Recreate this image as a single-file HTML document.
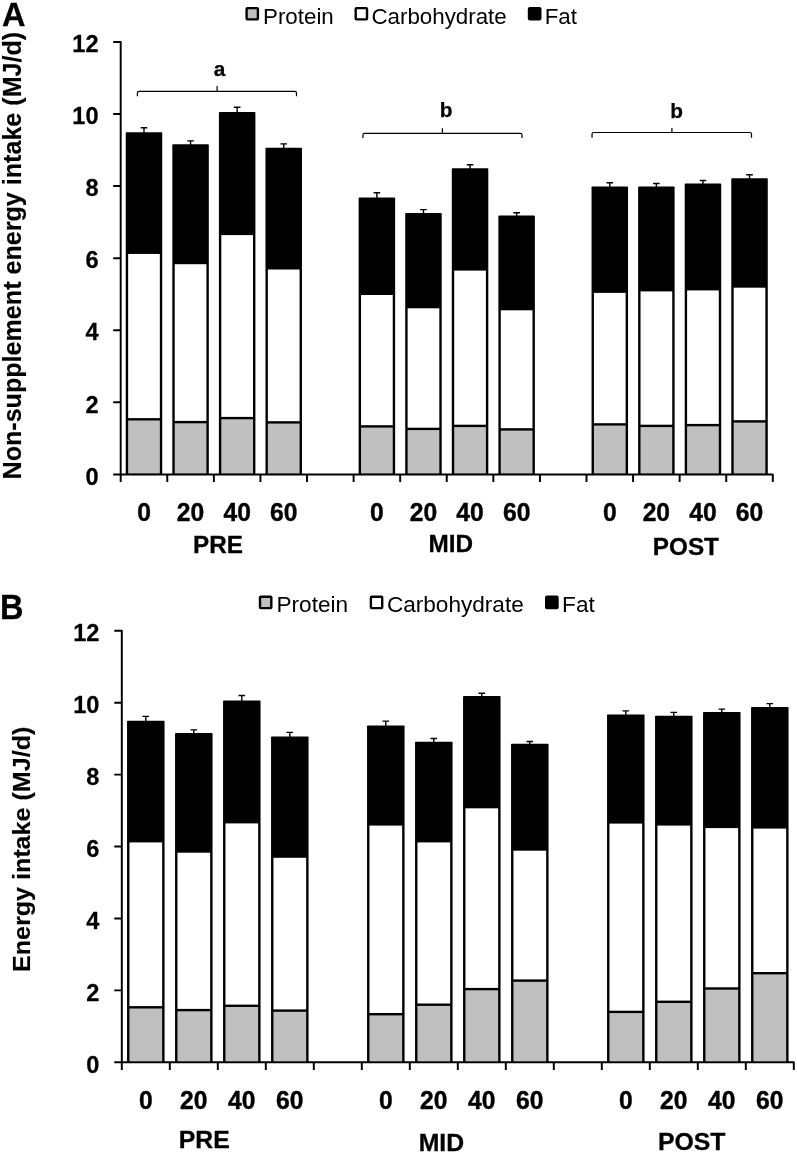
<!DOCTYPE html>
<html><head><meta charset="utf-8"><title>Energy intake</title>
<style>
html,body{margin:0;padding:0;background:#fff;}
body{width:797px;height:1153px;overflow:hidden;font-family:"Liberation Sans",sans-serif;}
svg{display:block;will-change:transform;}
</style></head><body>
<svg width="797" height="1153" viewBox="0 0 797 1153" font-family="'Liberation Sans', sans-serif" fill="#000">
<path d="M113.20 41.92H120.70V482.00" fill="none" stroke="#000" stroke-width="1.95" stroke-linejoin="round"/>
<path d="M113.20 474.40H772.82V482.00" fill="none" stroke="#000" stroke-width="1.95" stroke-linejoin="round"/>
<path d="M113.20 402.32H120.70M113.20 330.24H120.70M113.20 258.16H120.70M113.20 186.08H120.70M113.20 114.00H120.70M167.28 474.40V482.00M213.86 474.40V482.00M260.44 474.40V482.00M307.02 474.40V482.00M353.60 474.40V482.00M400.18 474.40V482.00M446.76 474.40V482.00M493.34 474.40V482.00M539.92 474.40V482.00M586.50 474.40V482.00M633.08 474.40V482.00M679.66 474.40V482.00M726.24 474.40V482.00" fill="none" stroke="#000" stroke-width="1.95"/>
<path d="M143.99 133.20V127.80M140.69 127.80H147.29" fill="none" stroke="#000" stroke-width="1.4"/>
<rect x="125.74" y="132.20" width="36.50" height="342.20" fill="#000" rx="0.8"/>
<rect x="128.14" y="253.95" width="31.70" height="164.15" fill="#fff"/>
<rect x="128.14" y="420.50" width="31.70" height="52.90" fill="#c0c0c0"/>
<path d="M190.57 145.20V140.90M187.27 140.90H193.87" fill="none" stroke="#000" stroke-width="1.4"/>
<rect x="172.32" y="144.20" width="36.50" height="330.20" fill="#000" rx="0.8"/>
<rect x="174.72" y="264.20" width="31.70" height="156.70" fill="#fff"/>
<rect x="174.72" y="423.30" width="31.70" height="50.10" fill="#c0c0c0"/>
<path d="M237.15 113.10V107.30M233.85 107.30H240.45" fill="none" stroke="#000" stroke-width="1.4"/>
<rect x="218.90" y="112.10" width="36.50" height="362.30" fill="#000" rx="0.8"/>
<rect x="221.30" y="235.10" width="31.70" height="181.80" fill="#fff"/>
<rect x="221.30" y="419.30" width="31.70" height="54.10" fill="#c0c0c0"/>
<path d="M283.73 148.70V143.90M280.43 143.90H287.03" fill="none" stroke="#000" stroke-width="1.4"/>
<rect x="265.48" y="147.70" width="36.50" height="326.70" fill="#000" rx="0.8"/>
<rect x="267.88" y="269.50" width="31.70" height="151.70" fill="#fff"/>
<rect x="267.88" y="423.60" width="31.70" height="49.80" fill="#c0c0c0"/>
<path d="M376.89 198.60V192.80M373.59 192.80H380.19" fill="none" stroke="#000" stroke-width="1.4"/>
<rect x="358.64" y="197.60" width="36.50" height="276.80" fill="#000" rx="0.8"/>
<rect x="361.04" y="295.00" width="31.70" height="130.20" fill="#fff"/>
<rect x="361.04" y="427.60" width="31.70" height="45.80" fill="#c0c0c0"/>
<path d="M423.47 213.90V209.60M420.17 209.60H426.77" fill="none" stroke="#000" stroke-width="1.4"/>
<rect x="405.22" y="212.90" width="36.50" height="261.50" fill="#000" rx="0.8"/>
<rect x="407.62" y="308.30" width="31.70" height="119.40" fill="#fff"/>
<rect x="407.62" y="430.10" width="31.70" height="43.30" fill="#c0c0c0"/>
<path d="M470.05 169.20V164.70M466.75 164.70H473.35" fill="none" stroke="#000" stroke-width="1.4"/>
<rect x="451.80" y="168.20" width="36.50" height="306.20" fill="#000" rx="0.8"/>
<rect x="454.20" y="270.60" width="31.70" height="154.10" fill="#fff"/>
<rect x="454.20" y="427.10" width="31.70" height="46.30" fill="#c0c0c0"/>
<path d="M516.63 216.40V212.80M513.33 212.80H519.93" fill="none" stroke="#000" stroke-width="1.4"/>
<rect x="498.38" y="215.40" width="36.50" height="259.00" fill="#000" rx="0.8"/>
<rect x="500.78" y="310.30" width="31.70" height="117.90" fill="#fff"/>
<rect x="500.78" y="430.60" width="31.70" height="42.80" fill="#c0c0c0"/>
<path d="M609.79 187.40V182.80M606.49 182.80H613.09" fill="none" stroke="#000" stroke-width="1.4"/>
<rect x="591.54" y="186.40" width="36.50" height="288.00" fill="#000" rx="0.8"/>
<rect x="593.94" y="292.90" width="31.70" height="130.30" fill="#fff"/>
<rect x="593.94" y="425.60" width="31.70" height="47.80" fill="#c0c0c0"/>
<path d="M656.37 187.60V183.50M653.07 183.50H659.67" fill="none" stroke="#000" stroke-width="1.4"/>
<rect x="638.12" y="186.60" width="36.50" height="287.80" fill="#000" rx="0.8"/>
<rect x="640.52" y="291.40" width="31.70" height="133.30" fill="#fff"/>
<rect x="640.52" y="427.10" width="31.70" height="46.30" fill="#c0c0c0"/>
<path d="M702.95 184.60V180.50M699.65 180.50H706.25" fill="none" stroke="#000" stroke-width="1.4"/>
<rect x="684.70" y="183.60" width="36.50" height="290.80" fill="#000" rx="0.8"/>
<rect x="687.10" y="290.40" width="31.70" height="133.50" fill="#fff"/>
<rect x="687.10" y="426.30" width="31.70" height="47.10" fill="#c0c0c0"/>
<path d="M749.53 179.30V174.80M746.23 174.80H752.83" fill="none" stroke="#000" stroke-width="1.4"/>
<rect x="731.28" y="178.30" width="36.50" height="296.10" fill="#000" rx="0.8"/>
<rect x="733.68" y="287.70" width="31.70" height="132.50" fill="#fff"/>
<rect x="733.68" y="422.60" width="31.70" height="50.80" fill="#c0c0c0"/>
<path d="M114.30 630.78H121.80V1069.90" fill="none" stroke="#000" stroke-width="1.95" stroke-linejoin="round"/>
<path d="M114.30 1062.30H793.80V1069.90" fill="none" stroke="#000" stroke-width="1.95" stroke-linejoin="round"/>
<path d="M114.30 990.38H121.80M114.30 918.46H121.80M114.30 846.54H121.80M114.30 774.62H121.80M114.30 702.70H121.80M169.80 1062.30V1069.90M217.80 1062.30V1069.90M265.80 1062.30V1069.90M313.80 1062.30V1069.90M361.80 1062.30V1069.90M409.80 1062.30V1069.90M457.80 1062.30V1069.90M505.80 1062.30V1069.90M553.80 1062.30V1069.90M601.80 1062.30V1069.90M649.80 1062.30V1069.90M697.80 1062.30V1069.90M745.80 1062.30V1069.90" fill="none" stroke="#000" stroke-width="1.95"/>
<path d="M145.80 721.70V716.40M142.50 716.40H149.10" fill="none" stroke="#000" stroke-width="1.4"/>
<rect x="127.05" y="720.70" width="37.50" height="341.60" fill="#000" rx="0.8"/>
<rect x="129.45" y="842.40" width="32.70" height="163.70" fill="#fff"/>
<rect x="129.45" y="1008.50" width="32.70" height="52.80" fill="#c0c0c0"/>
<path d="M193.80 734.00V729.90M190.50 729.90H197.10" fill="none" stroke="#000" stroke-width="1.4"/>
<rect x="175.05" y="733.00" width="37.50" height="329.30" fill="#000" rx="0.8"/>
<rect x="177.45" y="852.70" width="32.70" height="156.20" fill="#fff"/>
<rect x="177.45" y="1011.30" width="32.70" height="50.00" fill="#c0c0c0"/>
<path d="M241.80 701.60V695.50M238.50 695.50H245.10" fill="none" stroke="#000" stroke-width="1.4"/>
<rect x="223.05" y="700.60" width="37.50" height="361.70" fill="#000" rx="0.8"/>
<rect x="225.45" y="823.40" width="32.70" height="181.20" fill="#fff"/>
<rect x="225.45" y="1007.00" width="32.70" height="54.30" fill="#c0c0c0"/>
<path d="M289.80 737.50V732.40M286.50 732.40H293.10" fill="none" stroke="#000" stroke-width="1.4"/>
<rect x="271.05" y="736.50" width="37.50" height="325.80" fill="#000" rx="0.8"/>
<rect x="273.45" y="857.80" width="32.70" height="151.60" fill="#fff"/>
<rect x="273.45" y="1011.80" width="32.70" height="49.50" fill="#c0c0c0"/>
<path d="M385.80 726.50V721.10M382.50 721.10H389.10" fill="none" stroke="#000" stroke-width="1.4"/>
<rect x="367.05" y="725.50" width="37.50" height="336.80" fill="#000" rx="0.8"/>
<rect x="369.45" y="825.60" width="32.70" height="187.40" fill="#fff"/>
<rect x="369.45" y="1015.40" width="32.70" height="45.90" fill="#c0c0c0"/>
<path d="M433.80 742.80V738.50M430.50 738.50H437.10" fill="none" stroke="#000" stroke-width="1.4"/>
<rect x="415.05" y="741.80" width="37.50" height="320.50" fill="#000" rx="0.8"/>
<rect x="417.45" y="842.40" width="32.70" height="161.10" fill="#fff"/>
<rect x="417.45" y="1005.90" width="32.70" height="55.40" fill="#c0c0c0"/>
<path d="M481.80 697.10V693.30M478.50 693.30H485.10" fill="none" stroke="#000" stroke-width="1.4"/>
<rect x="463.05" y="696.10" width="37.50" height="366.20" fill="#000" rx="0.8"/>
<rect x="465.45" y="808.30" width="32.70" height="179.60" fill="#fff"/>
<rect x="465.45" y="990.30" width="32.70" height="71.00" fill="#c0c0c0"/>
<path d="M529.80 744.80V741.50M526.50 741.50H533.10" fill="none" stroke="#000" stroke-width="1.4"/>
<rect x="511.05" y="743.80" width="37.50" height="318.50" fill="#000" rx="0.8"/>
<rect x="513.45" y="850.70" width="32.70" height="128.70" fill="#fff"/>
<rect x="513.45" y="981.80" width="32.70" height="79.50" fill="#c0c0c0"/>
<path d="M625.80 715.40V710.90M622.50 710.90H629.10" fill="none" stroke="#000" stroke-width="1.4"/>
<rect x="607.05" y="714.40" width="37.50" height="347.90" fill="#000" rx="0.8"/>
<rect x="609.45" y="823.60" width="32.70" height="187.10" fill="#fff"/>
<rect x="609.45" y="1013.10" width="32.70" height="48.20" fill="#c0c0c0"/>
<path d="M673.80 716.70V712.40M670.50 712.40H677.10" fill="none" stroke="#000" stroke-width="1.4"/>
<rect x="655.05" y="715.70" width="37.50" height="346.60" fill="#000" rx="0.8"/>
<rect x="657.45" y="825.60" width="32.70" height="175.00" fill="#fff"/>
<rect x="657.45" y="1003.00" width="32.70" height="58.30" fill="#c0c0c0"/>
<path d="M721.80 712.90V709.10M718.50 709.10H725.10" fill="none" stroke="#000" stroke-width="1.4"/>
<rect x="703.05" y="711.90" width="37.50" height="350.40" fill="#000" rx="0.8"/>
<rect x="705.45" y="828.10" width="32.70" height="159.20" fill="#fff"/>
<rect x="705.45" y="989.70" width="32.70" height="71.60" fill="#c0c0c0"/>
<path d="M769.80 708.10V703.60M766.50 703.60H773.10" fill="none" stroke="#000" stroke-width="1.4"/>
<rect x="751.05" y="707.10" width="37.50" height="355.20" fill="#000" rx="0.8"/>
<rect x="753.45" y="828.60" width="32.70" height="143.40" fill="#fff"/>
<rect x="753.45" y="974.40" width="32.70" height="86.90" fill="#c0c0c0"/>
<path d="M137.40 96.20V92.90Q137.40 91.30 139.00 91.30H294.90Q296.50 91.30 296.50 92.90V96.20M217.10 91.30V85.90" fill="none" stroke="#000" stroke-width="1.2"/>
<path d="M362.95 138.00V134.90Q362.95 133.30 364.55 133.30H520.40Q522.00 133.30 522.00 134.90V138.00M442.40 133.30V128.20" fill="none" stroke="#000" stroke-width="1.2"/>
<path d="M592.05 137.70V134.10Q592.05 132.50 593.65 132.50H749.90Q751.50 132.50 751.50 134.10V137.70M671.90 132.50V127.90" fill="none" stroke="#000" stroke-width="1.2"/>
<text x="219.50" y="75.90" font-size="20.8" font-weight="bold" text-anchor="middle"  stroke="#000" stroke-width="0.25" stroke-linejoin="round">a</text>
<text x="446.00" y="117.40" font-size="20.8" font-weight="bold" text-anchor="middle"  stroke="#000" stroke-width="0.25" stroke-linejoin="round">b</text>
<text x="676.60" y="117.60" font-size="20.8" font-weight="bold" text-anchor="middle"  stroke="#000" stroke-width="0.25" stroke-linejoin="round">b</text>
<text transform="translate(98.60 484.60) scale(1.0 1.05)" font-size="23.6" font-weight="bold" text-anchor="end"  stroke="#000" stroke-width="0.25" stroke-linejoin="round">0</text>
<text transform="translate(98.60 412.52) scale(1.0 1.05)" font-size="23.6" font-weight="bold" text-anchor="end"  stroke="#000" stroke-width="0.25" stroke-linejoin="round">2</text>
<text transform="translate(98.60 340.44) scale(1.0 1.05)" font-size="23.6" font-weight="bold" text-anchor="end"  stroke="#000" stroke-width="0.25" stroke-linejoin="round">4</text>
<text transform="translate(98.60 268.36) scale(1.0 1.05)" font-size="23.6" font-weight="bold" text-anchor="end"  stroke="#000" stroke-width="0.25" stroke-linejoin="round">6</text>
<text transform="translate(98.60 196.28) scale(1.0 1.05)" font-size="23.6" font-weight="bold" text-anchor="end"  stroke="#000" stroke-width="0.25" stroke-linejoin="round">8</text>
<text transform="translate(98.60 124.20) scale(1.0 1.05)" font-size="23.6" font-weight="bold" text-anchor="end"  stroke="#000" stroke-width="0.25" stroke-linejoin="round">10</text>
<text transform="translate(98.60 52.12) scale(1.0 1.05)" font-size="23.6" font-weight="bold" text-anchor="end"  stroke="#000" stroke-width="0.25" stroke-linejoin="round">12</text>
<text transform="translate(99.40 1072.50) scale(1.0 1.05)" font-size="23.6" font-weight="bold" text-anchor="end"  stroke="#000" stroke-width="0.25" stroke-linejoin="round">0</text>
<text transform="translate(99.40 1000.58) scale(1.0 1.05)" font-size="23.6" font-weight="bold" text-anchor="end"  stroke="#000" stroke-width="0.25" stroke-linejoin="round">2</text>
<text transform="translate(99.40 928.66) scale(1.0 1.05)" font-size="23.6" font-weight="bold" text-anchor="end"  stroke="#000" stroke-width="0.25" stroke-linejoin="round">4</text>
<text transform="translate(99.40 856.74) scale(1.0 1.05)" font-size="23.6" font-weight="bold" text-anchor="end"  stroke="#000" stroke-width="0.25" stroke-linejoin="round">6</text>
<text transform="translate(99.40 784.82) scale(1.0 1.05)" font-size="23.6" font-weight="bold" text-anchor="end"  stroke="#000" stroke-width="0.25" stroke-linejoin="round">8</text>
<text transform="translate(99.40 712.90) scale(1.0 1.05)" font-size="23.6" font-weight="bold" text-anchor="end"  stroke="#000" stroke-width="0.25" stroke-linejoin="round">10</text>
<text transform="translate(99.40 640.98) scale(1.0 1.05)" font-size="23.6" font-weight="bold" text-anchor="end"  stroke="#000" stroke-width="0.25" stroke-linejoin="round">12</text>
<text transform="translate(143.99 521.30) scale(1.01 1.04)" font-size="24.4" font-weight="bold" text-anchor="middle"  stroke="#000" stroke-width="0.4" stroke-linejoin="round">0</text>
<text transform="translate(190.57 521.30) scale(1.01 1.04)" font-size="24.4" font-weight="bold" text-anchor="middle"  stroke="#000" stroke-width="0.4" stroke-linejoin="round">20</text>
<text transform="translate(237.15 521.30) scale(1.01 1.04)" font-size="24.4" font-weight="bold" text-anchor="middle"  stroke="#000" stroke-width="0.4" stroke-linejoin="round">40</text>
<text transform="translate(283.73 521.30) scale(1.01 1.04)" font-size="24.4" font-weight="bold" text-anchor="middle"  stroke="#000" stroke-width="0.4" stroke-linejoin="round">60</text>
<text transform="translate(376.89 521.30) scale(1.01 1.04)" font-size="24.4" font-weight="bold" text-anchor="middle"  stroke="#000" stroke-width="0.4" stroke-linejoin="round">0</text>
<text transform="translate(423.47 521.30) scale(1.01 1.04)" font-size="24.4" font-weight="bold" text-anchor="middle"  stroke="#000" stroke-width="0.4" stroke-linejoin="round">20</text>
<text transform="translate(470.05 521.30) scale(1.01 1.04)" font-size="24.4" font-weight="bold" text-anchor="middle"  stroke="#000" stroke-width="0.4" stroke-linejoin="round">40</text>
<text transform="translate(516.63 521.30) scale(1.01 1.04)" font-size="24.4" font-weight="bold" text-anchor="middle"  stroke="#000" stroke-width="0.4" stroke-linejoin="round">60</text>
<text transform="translate(609.79 521.30) scale(1.01 1.04)" font-size="24.4" font-weight="bold" text-anchor="middle"  stroke="#000" stroke-width="0.4" stroke-linejoin="round">0</text>
<text transform="translate(656.37 521.30) scale(1.01 1.04)" font-size="24.4" font-weight="bold" text-anchor="middle"  stroke="#000" stroke-width="0.4" stroke-linejoin="round">20</text>
<text transform="translate(702.95 521.30) scale(1.01 1.04)" font-size="24.4" font-weight="bold" text-anchor="middle"  stroke="#000" stroke-width="0.4" stroke-linejoin="round">40</text>
<text transform="translate(749.53 521.30) scale(1.01 1.04)" font-size="24.4" font-weight="bold" text-anchor="middle"  stroke="#000" stroke-width="0.4" stroke-linejoin="round">60</text>
<text transform="translate(145.80 1109.30) scale(1.01 1.04)" font-size="24.4" font-weight="bold" text-anchor="middle"  stroke="#000" stroke-width="0.4" stroke-linejoin="round">0</text>
<text transform="translate(193.80 1109.30) scale(1.01 1.04)" font-size="24.4" font-weight="bold" text-anchor="middle"  stroke="#000" stroke-width="0.4" stroke-linejoin="round">20</text>
<text transform="translate(241.80 1109.30) scale(1.01 1.04)" font-size="24.4" font-weight="bold" text-anchor="middle"  stroke="#000" stroke-width="0.4" stroke-linejoin="round">40</text>
<text transform="translate(289.80 1109.30) scale(1.01 1.04)" font-size="24.4" font-weight="bold" text-anchor="middle"  stroke="#000" stroke-width="0.4" stroke-linejoin="round">60</text>
<text transform="translate(385.80 1109.30) scale(1.01 1.04)" font-size="24.4" font-weight="bold" text-anchor="middle"  stroke="#000" stroke-width="0.4" stroke-linejoin="round">0</text>
<text transform="translate(433.80 1109.30) scale(1.01 1.04)" font-size="24.4" font-weight="bold" text-anchor="middle"  stroke="#000" stroke-width="0.4" stroke-linejoin="round">20</text>
<text transform="translate(481.80 1109.30) scale(1.01 1.04)" font-size="24.4" font-weight="bold" text-anchor="middle"  stroke="#000" stroke-width="0.4" stroke-linejoin="round">40</text>
<text transform="translate(529.80 1109.30) scale(1.01 1.04)" font-size="24.4" font-weight="bold" text-anchor="middle"  stroke="#000" stroke-width="0.4" stroke-linejoin="round">60</text>
<text transform="translate(625.80 1109.30) scale(1.01 1.04)" font-size="24.4" font-weight="bold" text-anchor="middle"  stroke="#000" stroke-width="0.4" stroke-linejoin="round">0</text>
<text transform="translate(673.80 1109.30) scale(1.01 1.04)" font-size="24.4" font-weight="bold" text-anchor="middle"  stroke="#000" stroke-width="0.4" stroke-linejoin="round">20</text>
<text transform="translate(721.80 1109.30) scale(1.01 1.04)" font-size="24.4" font-weight="bold" text-anchor="middle"  stroke="#000" stroke-width="0.4" stroke-linejoin="round">40</text>
<text transform="translate(769.80 1109.30) scale(1.01 1.04)" font-size="24.4" font-weight="bold" text-anchor="middle"  stroke="#000" stroke-width="0.4" stroke-linejoin="round">60</text>
<text x="218.00" y="552.60" font-size="24.3" font-weight="bold" text-anchor="middle"  stroke="#000" stroke-width="0.3" stroke-linejoin="round">PRE</text>
<text x="450.80" y="552.10" font-size="24.3" font-weight="bold" text-anchor="middle"  stroke="#000" stroke-width="0.3" stroke-linejoin="round">MID</text>
<text x="685.90" y="555.10" font-size="24.3" font-weight="bold" text-anchor="middle"  stroke="#000" stroke-width="0.3" stroke-linejoin="round">POST</text>
<text transform="translate(204.20 1148.20) scale(1.0 0.985)" font-size="24.8" font-weight="bold" text-anchor="middle"  stroke="#000" stroke-width="0.3" stroke-linejoin="round">PRE</text>
<text transform="translate(441.40 1150.50) scale(1.0 0.985)" font-size="24.8" font-weight="bold" text-anchor="middle"  stroke="#000" stroke-width="0.3" stroke-linejoin="round">MID</text>
<text transform="translate(691.70 1150.20) scale(1.0 0.985)" font-size="24.8" font-weight="bold" text-anchor="middle"  stroke="#000" stroke-width="0.3" stroke-linejoin="round">POST</text>
<text transform="translate(2.00 26.00) scale(1.0 1.05)" font-size="32.5" font-weight="bold" text-anchor="start"  stroke="#000" stroke-width="0.25" stroke-linejoin="round">A</text>
<text transform="translate(0.00 619.00) scale(1.0 1.06)" font-size="32.5" font-weight="bold" text-anchor="start"  stroke="#000" stroke-width="0.25" stroke-linejoin="round">B</text>
<text transform="translate(20.6 479.5) rotate(-90) scale(1.042 1.035)" font-size="24.1" font-weight="bold" text-anchor="start" stroke="#000" stroke-width="0.15">Non-supplement energy intake (MJ/d)</text>
<text transform="translate(29.6 972.1) rotate(-90) scale(1.042 1.03)" font-size="24.1" font-weight="bold" text-anchor="start" stroke="#000" stroke-width="0.15">Energy intake (MJ/d)</text>
<rect x="246.60" y="8.10" width="11.30" height="11.30" rx="0.8" fill="#c0c0c0" stroke="#000" stroke-width="2.4"/>
<text transform="translate(263.00 23.50) scale(1.0 1.02)" font-size="22.35" font-weight="normal" text-anchor="start" >Protein</text>
<rect x="355.70" y="8.10" width="11.30" height="11.30" rx="0.8" fill="#fff" stroke="#000" stroke-width="2.4"/>
<text transform="translate(371.40 23.50) scale(1.0 1.02)" font-size="22.35" font-weight="normal" text-anchor="start" >Carbohydrate</text>
<rect x="529.00" y="8.10" width="11.30" height="11.30" rx="0.8" fill="#000" stroke="#000" stroke-width="2.4"/>
<text transform="translate(544.70 23.50) scale(1.0 1.02)" font-size="22.35" font-weight="normal" text-anchor="start" >Fat</text>
<rect x="260.00" y="596.80" width="11.30" height="11.30" rx="0.8" fill="#c0c0c0" stroke="#000" stroke-width="2.4"/>
<text transform="translate(276.50 611.80) scale(1.0 0.985)" font-size="22.6" font-weight="normal" text-anchor="start" >Protein</text>
<rect x="370.90" y="596.80" width="11.30" height="11.30" rx="0.8" fill="#fff" stroke="#000" stroke-width="2.4"/>
<text transform="translate(386.90 611.80) scale(1.0 0.985)" font-size="22.6" font-weight="normal" text-anchor="start" >Carbohydrate</text>
<rect x="546.20" y="596.80" width="11.30" height="11.30" rx="0.8" fill="#000" stroke="#000" stroke-width="2.4"/>
<text transform="translate(562.10 611.80) scale(1.0 0.985)" font-size="22.6" font-weight="normal" text-anchor="start" >Fat</text>
</svg>
</body></html>
